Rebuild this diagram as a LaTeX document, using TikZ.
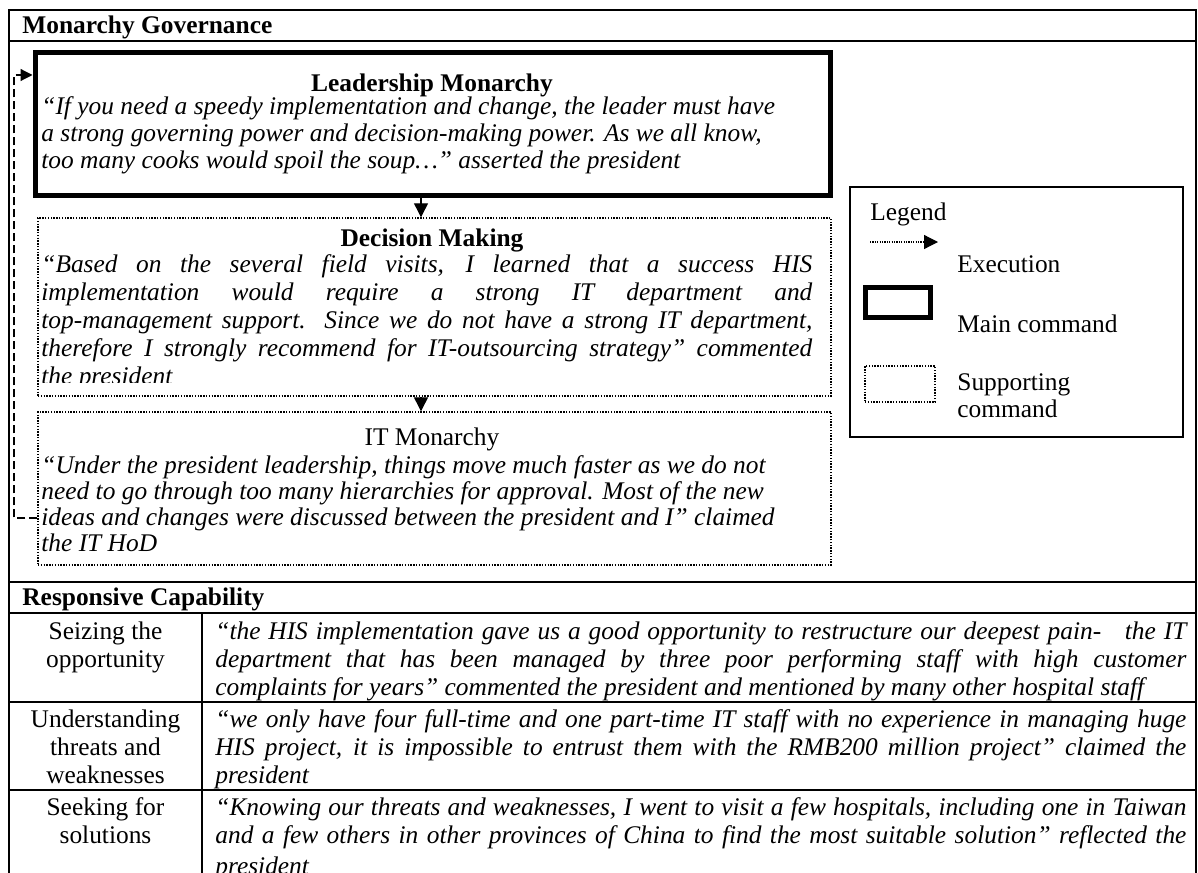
\documentclass[tikz,border=0pt]{standalone}
\usepackage{fontspec}
\setmainfont{Liberation Serif}
\usetikzlibrary{arrows.meta,positioning,calc}

\newcommand{\basesize}{\fontsize{12.7}{13}\selectfont}
\tikzset{
  qline/.style={inner sep=0pt, anchor=base west, font=\basesize\itshape},
  heading/.style={inner sep=0pt, anchor=base, font=\basesize\bfseries},
  rowname/.style={inner sep=0pt, anchor=base, font=\basesize},
  plain/.style={inner sep=0pt, anchor=base west, font=\basesize},
  mainbox/.style={draw, line width=2.5pt, inner sep=0pt},
  supportbox/.style={draw, line width=0.7pt, dash pattern=on 0.7pt off 0.7pt, inner sep=0pt},
  execarrow/.style={line width=0.6pt, -{Triangle[width=7pt,length=7pt]}},
  backarrow/.style={line width=0.6pt, dash pattern=on 4pt off 2pt, -{Triangle[width=6pt,length=6pt]}},
  gridline/.style={line width=1pt},
}
% one justified line of a given width
\newcommand{\just}[2][385.5pt]{\makebox[#1][s]{#2}}

\begin{document}
\begin{tikzpicture}[x=0.5pt, y=-0.5pt]
\useasboundingbox (0,0) rectangle (1198,872);
\clip (0,0) rectangle (1198,872);

% frame and table rules
\draw[gridline] (9,880) -- (9,10) -- (1196,10) -- (1196,880);
\foreach \yy in {41,582,613,702,790}
  \draw[gridline] (9,\yy) -- (1196,\yy);
\draw[gridline] (202,613) -- (202,880);

\node[heading, anchor=base west] (gov) at (22,34) {Monarchy Governance};

% command boxes
\node[mainbox, minimum width=397.5pt, minimum height=71pt] (lead) at (432.5,124) {};
\node[supportbox, minimum width=396.5pt, minimum height=89pt] (dec) at (434.5,307) {};
\node[supportbox, minimum width=396.5pt, minimum height=76.5pt] (itm) at (434.5,488.5) {};

\coordinate (axis) at (421,0);
\draw[execarrow] (lead.south -| axis) -- (dec.north -| axis);
\draw[execarrow] (dec.south -| axis) -- (itm.north -| axis);

% feedback from IT back to the leader
\coordinate (turn) at (14,518);
\coordinate (entry) at (14,75);
\draw[backarrow] (itm.west |- turn) -- (turn) -- (entry) -- (lead.west |- entry);

\node[heading] (leadt) at (432,91) {Leadership Monarchy};
\foreach \t [count=\i from 0] in {
  {“If you need a speedy implementation and change, the leader must have},
  {a strong governing power and decision-making power. As we all know,},
  {too many cooks would spoil the soup…” asserted the president}}
  \node[qline] (lq\i) at (41,114+27*\i) {\t};

\node[heading] (dect) at (432,246) {Decision Making};
\begin{scope}
\clip (38,218) rectangle (831,382);
\foreach \t [count=\i from 0] in {
  {\just{“Based on the several field visits, I learned that a success HIS}},
  {\just{implementation would require a strong IT department and}},
  {\just{top-management support. Since we do not have a strong IT department,}},
  {\just{therefore I strongly recommend for IT-outsourcing strategy” commented}},
  {the president}}
  \node[qline] (dq\i) at (41,272+28*\i) {\t};
\end{scope}

\node[rowname] (itt) at (432,445) {IT Monarchy};
\foreach \t [count=\i from 0] in {
  {“Under the president leadership, things move much faster as we do not},
  {need to go through too many hierarchies for approval. Most of the new},
  {ideas and changes were discussed between the president and I” claimed},
  {the IT HoD}}
  \node[qline] (iq\i) at (41,473+26*\i) {\t};

% legend
\node[draw, line width=0.8pt, minimum width=166.5pt, minimum height=125pt, inner sep=0pt] (legend) at (1016.5,312) {};
\node[plain] (legt) at (870,220) {Legend};
\coordinate (keyfrom) at (870,242);
\coordinate (keyto) at (938,242);
\draw[line width=0.6pt, dash pattern=on 0.6pt off 0.6pt, -{Triangle[width=7pt,length=7pt]}] (keyfrom) -- (keyto);
\node[plain] (exect) at (957,272) {Execution};
\node[mainbox, minimum width=32.5pt, minimum height=15pt] (mainkey) at (898,302.5) {};
\node[plain] (maint) at (957,332) {Main command};
\node[supportbox, minimum width=35pt, minimum height=18pt] (suppkey) at (900,384) {};
\node[plain] (suppt) at (957,390) {Supporting};
\node[plain] (suppt2) at (957,417) {command};

% responsive capability table
\node[heading, anchor=base west] (resp) at (22,605) {Responsive Capability};

\node[rowname] (r1a) at (105.5,639) {Seizing the};
\node[rowname] (r1b) at (105.5,667) {opportunity};
\node[qline] (s1) at (215,639) {\just[485.5pt]{“the HIS implementation gave us a good opportunity to restructure our deepest pain-\ \ \ the IT}};
\node[qline] (s2) at (215,667) {\just[485.5pt]{department that has been managed by three poor performing staff with high customer}};
\node[qline] (s3) at (215,695) {complaints for years” commented the president and mentioned by many other hospital staff};

\node[rowname] (r2a) at (105.5,727) {Understanding};
\node[rowname] (r2b) at (105.5,755) {threats and};
\node[rowname] (r2c) at (105.5,783) {weaknesses};
\node[qline] (u1) at (215,727) {\just[485.5pt]{“we only have four full-time and one part-time IT staff with no experience in managing huge}};
\node[qline] (u2) at (215,755) {\just[485.5pt]{HIS project, it is impossible to entrust them with the RMB200 million project” claimed the}};
\node[qline] (u3) at (215,783) {president};

\node[rowname] (r3a) at (105.5,815) {Seeking for};
\node[rowname] (r3b) at (105.5,843) {solutions};
\node[qline] (k1) at (215,815) {\just[485.5pt]{“Knowing our threats and weaknesses, I went to visit a few hospitals, including one in Taiwan}};
\node[qline] (k2) at (215,843) {\just[485.5pt]{and a few others in other provinces of China to find the most suitable solution” reflected the}};
\node[qline] (k3) at (215,874) {president};
\end{tikzpicture}
\end{document}
